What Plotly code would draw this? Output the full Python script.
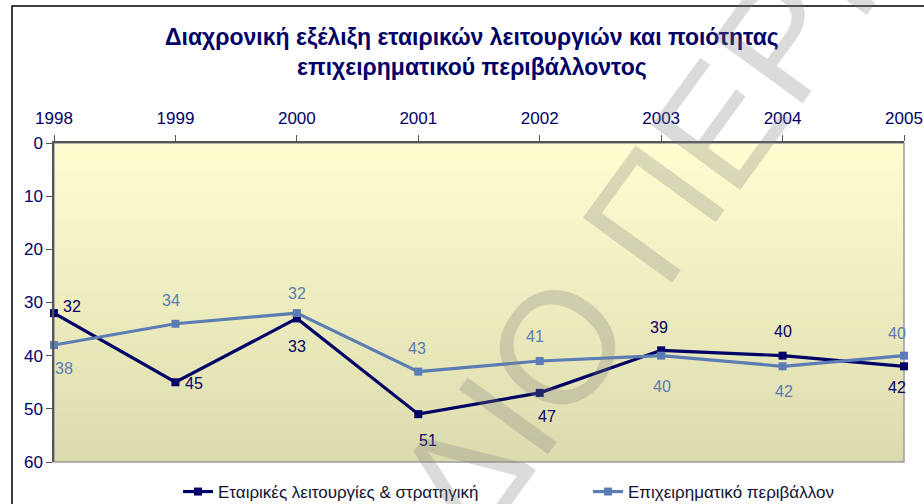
import math
import plotly.graph_objects as go

# ---------------- data ----------------
years = ["1998", "1999", "2000", "2001", "2002", "2003", "2004", "2005"]
corporate = [32, 45, 33, 51, 47, 39, 40, 42]
environment = [38, 34, 32, 43, 41, 40, 42, 40]
series_names = ["Εταιρικές λειτουργίες & στρατηγική", "Επιχειρηματικό περιβάλλον"]
title_lines = ["Διαχρονική εξέλιξη εταιρικών λειτουργιών και ποιότητας",
               "επιχειρηματικού περιβάλλοντος"]
y_ticks = [0, 10, 20, 30, 40, 50, 60]
watermark = "ΔΙΟ ΠΕΡΙ"

# ---------------- style ----------------
NAVY = "#000066"
STEEL = "#5A7DB5"
FONT = "Arial, Liberation Sans, sans-serif"
W, H = 924, 504
L, R, T, B = 54, 20, 143, 42
PW, PH = W - L - R, H - T - B

def px2paper(px, py):
    return (px - L) / PW, (H - B - py) / PH

# label offsets (pixels: dx right, dy down) for each point
off_corp = [(18, -7), (19, 1), (0, 28), (10, 26), (7, 24), (-2, -23), (0, -24), (-7, 21)]
off_env = [(10, 23), (-4, -23), (0, -20), (-1, -23), (-5, -24), (1, 31), (1, 25), (-7, -22)]

xs = list(range(len(years)))

fig = go.Figure()
fig.add_trace(go.Scatter(
    x=xs, y=corporate, name=series_names[0], mode="lines+markers",
    line=dict(color=NAVY, width=3.2), marker=dict(symbol="square", size=8, color=NAVY),
    cliponaxis=False, legend="legend"))
fig.add_trace(go.Scatter(
    x=xs, y=environment, name=series_names[1], mode="lines+markers",
    line=dict(color=STEEL, width=3.2), marker=dict(symbol="square", size=8, color=STEEL),
    cliponaxis=False, legend="legend2"))

annotations = []
for vals, offs, col in ((corporate, off_corp, NAVY), (environment, off_env, STEEL)):
    for x, v, (dx, dy) in zip(xs, vals, offs):
        annotations.append(dict(x=x, y=v, xref="x", yref="y", text=str(v), showarrow=False,
                                xshift=dx, yshift=-dy, font=dict(size=16, color=col, family=FONT)))

# title
tx, ty = px2paper(472, 52)
annotations.append(dict(x=tx, y=ty, xref="paper", yref="paper", showarrow=False,
                        text="<b>" + "<br>".join(title_lines) + "</b>",
                        font=dict(size=23, color=NAVY, family=FONT),
                        xanchor="center", yanchor="middle"))

# gradient background + border
shapes = []
n = 64
top = (255, 254, 208)
bot = (220, 219, 174)
for i in range(n):
    t = (i + 0.5) / n
    c = tuple(round(top[k] + (bot[k] - top[k]) * t) for k in range(3))
    shapes.append(dict(type="rect", xref="paper", yref="paper", x0=0, x1=1,
                       y0=1 - (i + 1) / n, y1=1 - i / n + 0.002, line=dict(width=0),
                       fillcolor="rgb(%d,%d,%d)" % c, layer="below"))
shapes.append(dict(type="rect", xref="paper", yref="paper", x0=0, x1=1, y0=0, y1=1,
                   line=dict(color="#9c9c9c", width=1.5), layer="below"))
bx0, by0 = px2paper(12, 6)
bx1, by1 = px2paper(940, 520)
shapes.append(dict(type="rect", xref="paper", yref="paper", x0=bx0, x1=bx1, y0=by1, y1=by0,
                   line=dict(color="#000000", width=1.5)))

# watermark letters along a rotated baseline
ANG = 54
ang = math.radians(ANG)
ux, uy = math.cos(ang), -math.sin(ang)
F = 160
adv = {"Δ": 0.668, "Ι": 0.278, "Ο": 0.778, " ": 0.278, "Π": 0.722, "Ε": 0.667, "Ρ": 0.667}
anchor_idx = watermark.index("Ο")
ox, oy = 557, 347
pos = 0.0
cum = []
for ch in watermark:
    cum.append(pos + adv[ch] * F / 2)
    pos += adv[ch] * F
base = cum[anchor_idx]
for ch, c in zip(watermark, cum):
    if ch == " ":
        continue
    d = c - base
    cx, cy = ox + d * ux, oy + d * uy
    wx, wy = px2paper(cx, cy)
    annotations.append(dict(x=wx, y=wy, xref="paper", yref="paper", text=ch, showarrow=False,
                            textangle=-ANG, xanchor="center", yanchor="middle",
                            font=dict(size=F, color="rgba(125,125,125,0.28)", family=FONT)))

leg_y = px2paper(0, 492)[1]
leg_common = dict(orientation="h", xanchor="left", y=leg_y, yanchor="middle",
                  font=dict(size=17, color="#111133", family=FONT), bgcolor="rgba(0,0,0,0)")

fig.update_layout(
    width=W, height=H, margin=dict(l=L, r=R, t=T, b=B, autoexpand=False),
    paper_bgcolor="white", plot_bgcolor="rgba(0,0,0,0)",
    font=dict(family=FONT, color=NAVY),
    showlegend=True,
    legend=dict(x=(178 - L) / PW, **leg_common),
    legend2=dict(x=(588 - L) / PW, **leg_common),
    xaxis=dict(side="top", range=[0, len(years) - 1], tickvals=xs, ticktext=years,
               ticks="outside", ticklen=6, tickcolor="#555555", showline=True,
               linecolor="#555555", linewidth=1.5, showgrid=False, zeroline=False,
               automargin=False, ticklabelstandoff=4,
               tickfont=dict(size=17, color=NAVY, family=FONT)),
    yaxis=dict(range=[60, 0], tickvals=y_ticks, ticks="outside", ticklen=6,
               tickcolor="#555555", showline=True, linecolor="#555555", linewidth=1.5,
               showgrid=False, zeroline=False, automargin=False,
               tickfont=dict(size=17, color=NAVY, family=FONT)),
    shapes=shapes, annotations=annotations,
)

fig.write_html("out.html", config={"displayModeBar": False},
               post_script="document.body.style.margin='0';document.body.style.overflow='hidden';")
